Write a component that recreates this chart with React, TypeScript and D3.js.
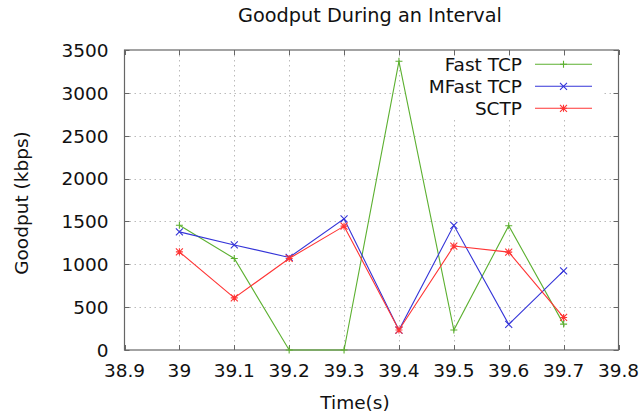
import React from "react";
import * as d3 from "d3";

const times = [39, 39.1, 39.2, 39.3, 39.4, 39.5, 39.6, 39.7];
const fastTcp = [1455, 1068, 0, 0, 3368, 233, 1450, 302];
const mfastTcp = [1378, 1226, 1080, 1530, 233, 1455, 300, 922];
const sctp = [1145, 608, 1068, 1445, 233, 1213, 1142, 380];

const xTicks = [38.9, 39, 39.1, 39.2, 39.3, 39.4, 39.5, 39.6, 39.7, 39.8];
const yTicks = [0, 500, 1000, 1500, 2000, 2500, 3000, 3500];

const seriesNames = ["Fast TCP", "MFast TCP", "SCTP"];
const seriesColors = ["#5cb030", "#3434d8", "#ff3434"];
const seriesMarkers = ["plus", "cross", "star"];

const W = 642;
const H = 416;
const L = 124.5, R = 618.5, T = 50, B = 350;
const FONT = "DejaVu Sans, sans-serif";

function markerPath(kind: string, cx: number, cy: number, s = 3.5): string {
  const p = d3.path();
  if (kind === "plus" || kind === "star") {
    p.moveTo(cx - s, cy); p.lineTo(cx + s, cy);
    p.moveTo(cx, cy - s); p.lineTo(cx, cy + s);
  }
  if (kind === "cross" || kind === "star") {
    p.moveTo(cx - s, cy - s); p.lineTo(cx + s, cy + s);
    p.moveTo(cx - s, cy + s); p.lineTo(cx + s, cy - s);
  }
  return p.toString();
}

export default function App() {
  const x = d3.scaleLinear().domain([38.9, 39.8]).range([L, R]);
  const y = d3.scaleLinear().domain([0, 3500]).range([B, T]);
  const data = [fastTcp, mfastTcp, sctp];
  const line = d3
    .line<number>()
    .x((_, i) => x(times[i]))
    .y((v) => y(v));

  const legendTextX = 522;
  const legendLineX0 = 535;
  const legendLineX1 = 592;
  const legendY0 = 64.3;
  const legendDy = 22;

  return (
    <div style={{ position: "absolute", left: 0, top: 0 }}>
      <svg width={W} height={H} style={{ display: "block", background: "#fff" }} fontFamily={FONT}>
        <rect x={0} y={0} width={W} height={H} fill="#fff" />
        {/* grid */}
        <g stroke="#bbb" strokeWidth={1} strokeDasharray="1.5,3.5">
          {xTicks.slice(1, -1).map((t) => (
            <line key={"gx" + t} x1={Math.round(x(t)) + 0.5} x2={Math.round(x(t)) + 0.5} y1={T} y2={B} />
          ))}
          {yTicks.slice(1, -1).map((t) => (
            <line key={"gy" + t} x1={L} x2={R} y1={Math.round(y(t)) + 0.5} y2={Math.round(y(t)) + 0.5} />
          ))}
        </g>
        {/* key background */}
        <rect x={406} y={56} width={198} height={63} fill="#fff" />
        {/* ticks */}
        <g stroke="#666" strokeWidth={1}>
          {xTicks.map((t) => (
            <g key={"tx" + t}>
              <line x1={Math.round(x(t)) + 0.5} x2={Math.round(x(t)) + 0.5} y1={B} y2={B - 5} />
              <line x1={Math.round(x(t)) + 0.5} x2={Math.round(x(t)) + 0.5} y1={T} y2={T + 5} />
            </g>
          ))}
          {yTicks.map((t) => (
            <g key={"ty" + t}>
              <line x1={L} x2={L + 5} y1={Math.round(y(t)) + 0.5} y2={Math.round(y(t)) + 0.5} />
              <line x1={R} x2={R - 5} y1={Math.round(y(t)) + 0.5} y2={Math.round(y(t)) + 0.5} />
            </g>
          ))}
        </g>
        {/* frame */}
        <rect x={L} y={T} width={R - L} height={B - T} fill="none" stroke="#666" strokeWidth={1.2} />
        {/* tick labels */}
        <g fontSize={18.5} fill="#111">
          {xTicks.map((t) => (
            <text key={"lx" + t} x={x(t)} y={377} textAnchor="middle">
              {d3.format("")(+t.toFixed(1))}
            </text>
          ))}
          {yTicks.map((t) => (
            <text key={"ly" + t} x={108.5} y={y(t) + 6.8} textAnchor="end">
              {t}
            </text>
          ))}
        </g>
        {/* axis titles */}
        <text x={370} y={22} textAnchor="middle" fontSize={19.3} fill="#111">
          Goodput During an Interval
        </text>
        <text x={355} y={409} textAnchor="middle" fontSize={18.5} fill="#111">
          Time(s)
        </text>
        <text
          transform={`translate(28,203) rotate(-90)`}
          textAnchor="middle"
          fontSize={18.5}
          fill="#111"
        >
          Goodput (kbps)
        </text>
        {/* series */}
        {data.map((vals, si) => (
          <g key={"s" + si}>
            <path d={line(vals) || ""} fill="none" stroke={seriesColors[si]} strokeWidth={1.1} />
            {vals.map((v, i) => (
              <path
                key={i}
                d={markerPath(seriesMarkers[si], x(times[i]), y(v))}
                stroke={seriesColors[si]}
                strokeWidth={1.1}
                fill="none"
              />
            ))}
          </g>
        ))}
        {/* legend */}
        {seriesNames.map((name, si) => {
          const ly = legendY0 + si * legendDy;
          return (
            <g key={"leg" + si}>
              <text x={legendTextX} y={ly + 6.6} textAnchor="end" fontSize={18.5} fill="#111">
                {name}
              </text>
              <line x1={legendLineX0} x2={legendLineX1} y1={ly} y2={ly} stroke={seriesColors[si]} strokeWidth={1.1} />
              <path
                d={markerPath(seriesMarkers[si], (legendLineX0 + legendLineX1) / 2, ly)}
                stroke={seriesColors[si]}
                strokeWidth={1.1}
                fill="none"
              />
            </g>
          );
        })}
      </svg>
    </div>
  );
}
